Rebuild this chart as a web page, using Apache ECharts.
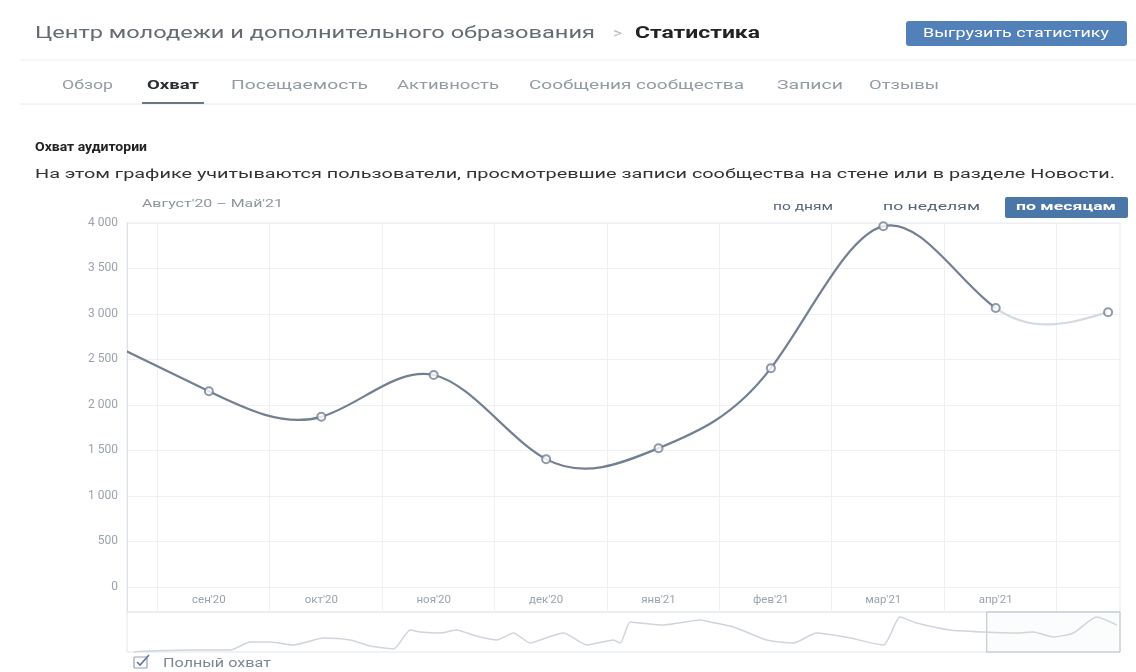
<!DOCTYPE html>
<html>
<head>
<meta charset="utf-8">
<script src="https://cdn.jsdelivr.net/npm/echarts@6/dist/echarts.min.js"></script>
<style>
html,body{margin:0;padding:0;background:#fff;}
#c{width:1136px;height:672px;}
</style>
</head>
<body>
<div id="c"></div>
<script>
// ---------- data ----------
const months = ["авг'20","сен'20","окт'20","ноя'20","дек'20","янв'21","фев'21","мар'21","апр'21","май'21"];
const reach = [2750, 2150, 1870, 2330, 1405, 1525, 2405, 3965, 3065, 3020];
const yTicks = [0, 500, 1000, 1500, 2000, 2500, 3000, 3500, 4000];
const navDay = [2,7,19,31,37,43,50,59,67,73,80,85,88,94,99,102,106,111,116,121,124,131,138,146,148,151,154,161,172,175,182,192,200,207,217,227,232,237,247,257,267,272,278,284,291,297];
const navReach = [0,10,20,20,100,100,70,140,120,60,30,220,200,190,220,190,150,120,190,90,120,190,70,120,90,300,290,270,320,300,250,120,90,190,140,70,350,290,220,200,190,200,150,190,350,270];
const navWindow = [258, 298];
const tabs = ["Обзор","Охват","Посещаемость","Активность","Сообщения сообщества","Записи","Отзывы"];
const periodButtons = ["по дням","по неделям","по месяцам"];
const partialFrom = 8; // last month (май'21) is incomplete

// ---------- layout ----------
const PX_MONTH = 112.4, X0 = 96.5, LEFT = 127, RIGHT = 1120;
const xMin = (LEFT - X0) / PX_MONTH, xMax = (RIGHT - X0) / PX_MONTH;
const splitVals = months.map((m, i) => i + 0.54).filter(v => v > xMin && v < xMax);
const labelVals = months.map((m, i) => i).filter(i => i >= 1 && i <= 8);
const DARK = '#738092', LIGHT = '#d3d9e0';

const mctx = document.createElement('canvas').getContext('2d');
const FF = 'Roboto, "Noto Sans", sans-serif';
function txt(text, x, y, size, weight, color, targetW, align) {
  mctx.font = weight + ' ' + size + 'px Roboto';
  const w = mctx.measureText(text).width;
  const s = targetW ? targetW / w : 1;
  const left = align === 'center' ? x - (targetW || w) / 2 : x;
  return {
    type: 'text', x: left, y: y, scaleX: s, z: 10, silent: true,
    style: { text: text, fontSize: size, fontWeight: weight, fontFamily: FF, fill: color, verticalAlign: 'middle', align: 'left' }
  };
}

const fmtNum = v => v >= 1000 ? Math.floor(v / 1000) + ' ' + String(v % 1000).padStart(3, '0') : String(v);

// natural cubic spline through pixel points (uniform x spacing) -> bezier segments
function splineSegments(pts) {
  const n = pts.length, ys = pts.map(p => p[1]);
  const M = new Array(n).fill(0), c = [], d = [];
  const m = n - 2;
  for (let i = 1; i <= m; i++) {
    const rhs = 6 * (ys[i + 1] - 2 * ys[i] + ys[i - 1]);
    const den = i === 1 ? 4 : 4 - c[i - 1];
    c[i] = 1 / den;
    d[i] = (rhs - (i === 1 ? 0 : d[i - 1])) / den;
  }
  for (let i = m; i >= 1; i--) M[i] = d[i] - (i < m ? c[i] * M[i + 1] : 0);
  const segs = [];
  for (let i = 0; i < n - 1; i++) {
    const x0 = pts[i][0], x1 = pts[i + 1][0], dx = x1 - x0, s = ys[i + 1] - ys[i];
    const d0 = s - (2 * M[i] + M[i + 1]) / 6, d1 = s + (M[i] + 2 * M[i + 1]) / 6;
    segs.push([x0, ys[i], x0 + dx / 3, ys[i] + d0 / 3, x1 - dx / 3, ys[i + 1] - d1 / 3, x1, ys[i + 1]]);
  }
  return segs;
}
function segPath(segs) {
  if (!segs.length) return '';
  let p = 'M' + segs[0][0] + ' ' + segs[0][1];
  segs.forEach(s => { p += ' C' + s[2] + ' ' + s[3] + ' ' + s[4] + ' ' + s[5] + ' ' + s[6] + ' ' + s[7]; });
  return p;
}

const graphics = [
  txt("Центр молодежи и дополнительного образования", 35, 34, 17, 'normal', '#656b73', 560),
  txt(">", 613, 34, 15, 'normal', '#b3b9c1', 9),
  txt("Статистика", 635, 34, 17, 'bold', '#222', 125),
  { type: 'rect', shape: { x: 906, y: 21, width: 221, height: 25, r: 3 }, style: { fill: '#5181b8' }, z: 5 },
  txt("Выгрузить статистику", 1016, 33.5, 12.5, 'normal', '#fff', 186, 'center'),
  { type: 'line', shape: { x1: 20, y1: 60, x2: 1136, y2: 60 }, style: { stroke: '#eceef1', lineWidth: 1 } },
  { type: 'line', shape: { x1: 20, y1: 104, x2: 1136, y2: 104 }, style: { stroke: '#e7e8ec', lineWidth: 1 } },
  { type: 'rect', shape: { x: 142, y: 102, width: 62, height: 2 }, style: { fill: '#6b7785' }, z: 6 },
  txt("Охват аудитории", 35, 148, 12.5, 'bold', '#222', 112),
  txt("На этом графике учитываются пользователи, просмотревшие записи сообщества на стене или в разделе Новости.", 35, 175, 12.5, 'normal', '#333', 1080),
  txt("Август'20 – Май'21", 142, 204, 11, 'normal', '#8d96a0', 141),
  txt(periodButtons[0], 773, 207, 11.5, 'normal', '#56657a', 60),
  txt(periodButtons[1], 883, 207, 11.5, 'normal', '#56657a', 97),
  { type: 'rect', shape: { x: 1005, y: 197, width: 123, height: 21, r: 2 }, style: { fill: '#4a76a8' }, z: 5 },
  txt(periodButtons[2], 1066, 207.5, 11, 'bold', '#fff', 100, 'center'),
  { type: 'rect', shape: { x: 134, y: 657, width: 13, height: 11, r: 1 }, style: { fill: '#fff', stroke: '#8fa0b5', lineWidth: 1.2 }, z: 5 },
  { type: 'polyline', shape: { points: [[137, 662], [140, 665], [149, 655]] }, style: { stroke: '#5d7590', lineWidth: 1.6, fill: null }, z: 6 },
  txt("Полный охват", 163, 664, 12, 'normal', '#7e8793', 108)
];
const tabPos = [[62, 51], [147, 52], [231, 137], [397, 102], [529, 215], [777, 66], [869, 70]];
tabs.forEach((t, i) => {
  graphics.push(txt(t, tabPos[i][0], 86, 13, i === 1 ? 'bold' : 'normal', i === 1 ? '#2a2f36' : '#939ba5', tabPos[i][1]));
});

const seriesData = months.map((m, i) => [i, reach[i]]);

const chart = echarts.init(document.getElementById('c'), null, { renderer: 'canvas' });
chart.setOption({
  animation: false,
  backgroundColor: '#fff',
  grid: [
    { left: LEFT, top: 223, width: RIGHT - LEFT, height: 389, show: true, borderColor: '#e6e9ed', borderWidth: 1, backgroundColor: 'transparent' },
    { left: LEFT, top: 612, width: RIGHT - LEFT, height: 40, show: true, borderColor: '#e3e6ea', borderWidth: 1, backgroundColor: 'transparent' }
  ],
  xAxis: [
    {
      type: 'value', gridIndex: 0, min: xMin, max: xMax,
      axisLine: { show: false },
      axisTick: { show: false, customValues: splitVals },
      splitLine: { show: true, lineStyle: { color: '#eef0f3', width: 1 } },
      axisLabel: {
        customValues: labelVals, inside: true, margin: 6,
        color: '#9aa3ad', fontSize: 11.5, fontFamily: FF,
        formatter: v => months[Math.round(v)] || ''
      }
    },
    { type: 'value', gridIndex: 1, min: 0, max: 298, show: false }
  ],
  yAxis: [
    {
      type: 'value', gridIndex: 0, min: -275, max: 4000,
      axisLine: { show: true, lineStyle: { color: '#dde2e8' } },
      axisTick: { show: false, customValues: yTicks },
      splitLine: { show: true, lineStyle: { color: '#eef0f3', width: 1 } },
      axisLabel: { customValues: yTicks, margin: 9, color: '#9aa3ad', fontSize: 12, fontFamily: FF, formatter: fmtNum }
    },
    { type: 'value', gridIndex: 1, min: 0, max: 400, show: false }
  ],
  series: [
    {
      type: 'custom', xAxisIndex: 0, yAxisIndex: 0,
      data: seriesData, encode: { x: 0, y: 1 }, z: 5, silent: true,
      renderItem: function (params, api) {
        if (params.dataIndex !== 0) return null;
        const pts = seriesData.map(d => api.coord(d));
        const segs = splineSegments(pts);
        const cs = params.coordSys;
        return {
          type: 'group',
          clipPath: { type: 'rect', shape: { x: cs.x, y: cs.y, width: cs.width, height: cs.height } },
          children: [
            { type: 'path', shape: { pathData: segPath(segs.slice(0, partialFrom)) }, style: { stroke: DARK, lineWidth: 2.2, fill: 'none' } },
            { type: 'path', shape: { pathData: segPath(segs.slice(partialFrom)) }, style: { stroke: LIGHT, lineWidth: 2.2, fill: 'none' } }
          ]
        };
      }
    },
    {
      type: 'scatter', xAxisIndex: 0, yAxisIndex: 0,
      data: seriesData, symbol: 'emptyCircle', symbolSize: 8, z: 6, clip: true,
      itemStyle: { color: DARK, borderColor: DARK, borderWidth: 1.8 }
    },
    {
      type: 'line', xAxisIndex: 1, yAxisIndex: 1,
      data: navDay.map((d, i) => [d, navReach[i]]),
      showSymbol: false, smooth: 0.2,
      lineStyle: { color: '#cfd5dc', width: 1.5 },
      markArea: {
        silent: true,
        itemStyle: { color: 'rgba(240,242,245,0.25)', borderColor: '#b9c1cb', borderWidth: 1 },
        data: [[{ xAxis: navWindow[0] }, { xAxis: navWindow[1] }]]
      }
    }
  ],
  graphic: graphics
});
</script>
</body>
</html>
